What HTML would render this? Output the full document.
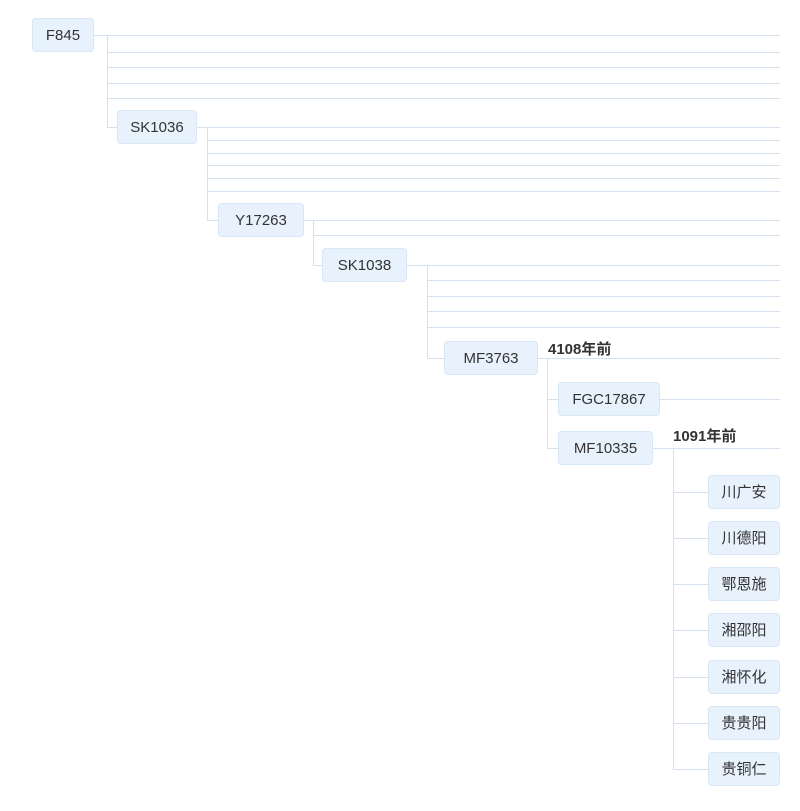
<!DOCTYPE html>
<html><head><meta charset="utf-8"><style>
body{margin:0;width:800px;height:811px;background:#fff;position:relative;overflow:hidden;font-family:"Liberation Sans","Noto Sans CJK SC",sans-serif}
.n{position:absolute;height:34px;line-height:34px;background:#e8f2fd;border:1px solid #d8e6f6;border-radius:4px;box-sizing:border-box;text-align:center;font-size:15px;color:#333}
.l{position:absolute;font-size:15px;font-weight:bold;color:#333}
svg{position:absolute;left:0;top:0}
</style></head><body>
<svg width="800" height="811"><g stroke="#d5e2ed" stroke-width="1" fill="none">
<path d="M94 35.5H780M107.5 35.5V127.5H117M107 52.5H780M107 67.5H780M107 83.5H780M107 98.5H780"/>
<path d="M197 127.5H780M207.5 127.5V220.5H218M207 140.5H780M207 153.5H780M207 165.5H780M207 178.5H780M207 191.5H780"/>
<path d="M304 220.5H780M313.5 220.5V265.5H322M313 235.5H780"/>
<path d="M407 265.5H780M427.5 265.5V358.5H444M427 280.5H780M427 296.5H780M427 311.5H780M427 327.5H780"/>
<path d="M538 358.5H780M547.5 358.5V448.5H558M547 399.5H558M660 399.5H780"/>
<path d="M653 448.5H780M673.5 448.5V769.5M673 492.5H708M673 538.5H708M673 584.5H708M673 630.5H708M673 677.5H708M673 723.5H708M673 769.5H708"/>
</g></svg>
<div class="n" style="left:32px;top:18px;width:62px">F845</div>
<div class="n" style="left:117px;top:110px;width:80px">SK1036</div>
<div class="n" style="left:218px;top:203px;width:86px">Y17263</div>
<div class="n" style="left:322px;top:248px;width:85px">SK1038</div>
<div class="n" style="left:444px;top:341px;width:94px">MF3763</div>
<div class="l" style="left:548px;top:338px">4108年前</div>
<div class="n" style="left:558px;top:382px;width:102px">FGC17867</div>
<div class="n" style="left:558px;top:431px;width:95px">MF10335</div>
<div class="l" style="left:673px;top:425px">1091年前</div>
<div class="n" style="left:708px;top:475px;width:72px">川广安</div>
<div class="n" style="left:708px;top:521px;width:72px">川德阳</div>
<div class="n" style="left:708px;top:567px;width:72px">鄂恩施</div>
<div class="n" style="left:708px;top:613px;width:72px">湘邵阳</div>
<div class="n" style="left:708px;top:660px;width:72px">湘怀化</div>
<div class="n" style="left:708px;top:706px;width:72px">贵贵阳</div>
<div class="n" style="left:708px;top:752px;width:72px">贵铜仁</div>
</body></html>
